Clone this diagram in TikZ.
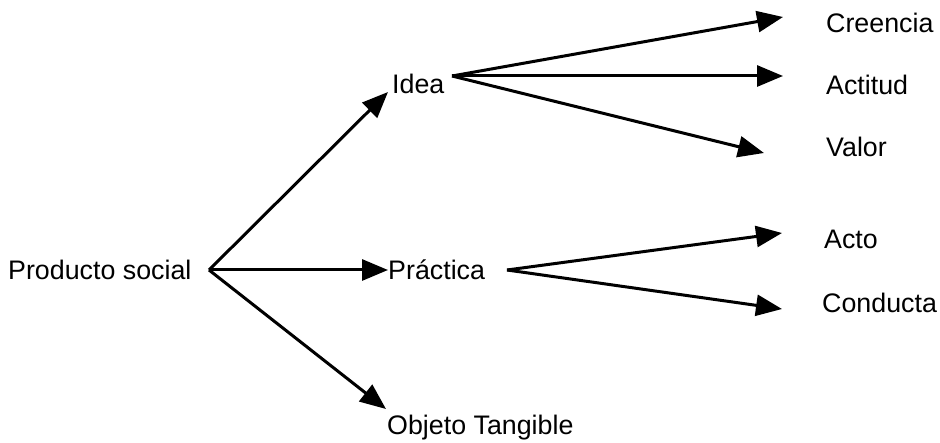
\documentclass[tikz,border=0pt]{standalone}
\usepackage{fontspec}
\setmainfont{Liberation Sans}
\usetikzlibrary{arrows.meta}
\begin{document}
\begin{tikzpicture}[x=1pt,y=-1pt,
  lbl/.style={anchor=base west,inner sep=0pt,font=\fontsize{26.8}{30}\selectfont},
  conn/.style={line width=3pt,-{Triangle[length=26pt,width=21pt]}}]
\useasboundingbox (0,0) rectangle (940,443);
\node[lbl] (ps) at (8,280) {Producto social};
\node[lbl] (idea) at (392,94) {Idea};
\node[lbl] (prac) at (388,280) {Práctica};
\node[lbl] (obj) at (387,435) {Objeto Tangible};
\node[lbl] (cre) at (826,33) {Creencia};
\node[lbl] (act) at (826,95) {Actitud};
\node[lbl] (val) at (826,157) {Valor};
\node[lbl] (acto) at (824,249) {Acto};
\node[lbl] (con) at (822,313) {Conducta};
% connector end points
\coordinate (psout) at (209,270);
\coordinate (ideain) at (388,92);
\coordinate (pracin) at (388,270);
\coordinate (objin) at (386,409);
\coordinate (ideaout) at (452,76);
\coordinate (crein) at (783,17);
\coordinate (actin) at (783,76);
\coordinate (valin) at (764,153);
\coordinate (pracout) at (507,270);
\coordinate (actoin) at (782,233);
\coordinate (conin) at (782,309);
\draw[conn] (psout) -- (ideain);
\draw[conn] (psout) -- (pracin);
\draw[conn] (psout) -- (objin);
\draw[conn] (ideaout) -- (crein);
\draw[conn] (ideaout) -- (actin);
\draw[conn] (ideaout) -- (valin);
\draw[conn] (pracout) -- (actoin);
\draw[conn] (pracout) -- (conin);
\end{tikzpicture}
\end{document}
